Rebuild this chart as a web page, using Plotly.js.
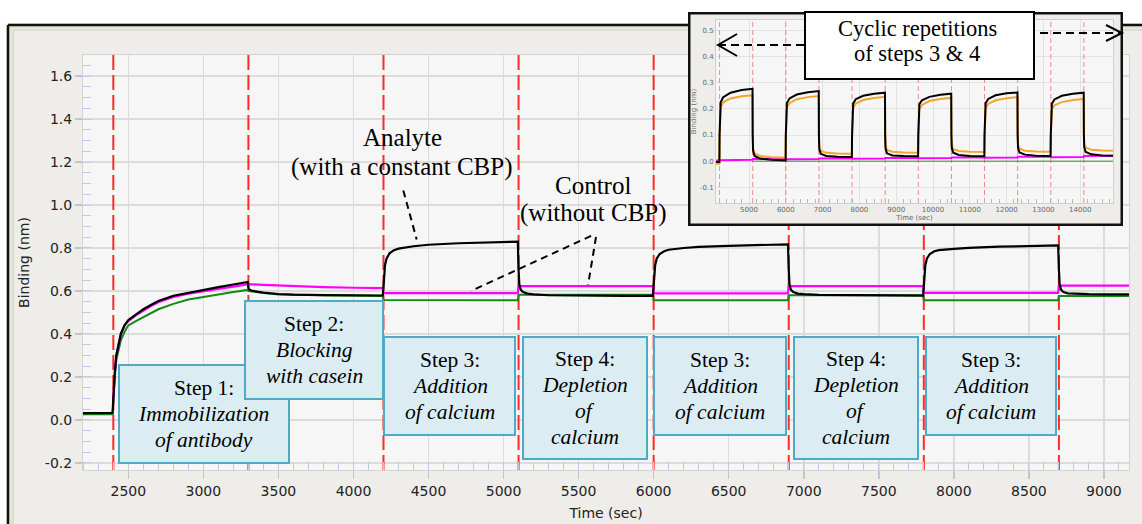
<!DOCTYPE html>
<html>
<head>
<meta charset="utf-8">
<script src="https://cdn.plot.ly/plotly-3.0.1.min.js"></script>
<style>html,body{margin:0;padding:0;background:#fff;}#chart{width:1142px;height:524px;}</style>
</head>
<body>
<div id="chart"></div>
<script>
// ---------------- DATA ----------------
// Main sensorgram: time (sec) and binding (nm)
const stepBoundaries = [2400, 3300, 4200, 5100, 6000, 6900, 7800, 8700];

const analyteX = [2198,2250,2300,2350,2395, 2400,2405,2410,2420,2435,2450,2475,2500,2550,2600,2650,2700,2800,2900,3000,3100,3200,3295,
  3300,3305,3320,3350,3400,3500,3600,3800,4000,4195,
  4200,4205,4210,4220,4240,4270,4300,4400,4500,4700,4900,5095,
  5100,5105,5115,5130,5160,5200,5300,5500,5800,5995,
  6000,6005,6010,6020,6040,6070,6100,6200,6300,6500,6700,6895,
  6900,6905,6915,6930,6960,7000,7100,7300,7600,7795,
  7800,7805,7810,7820,7840,7870,7900,8000,8100,8300,8500,8695,
  8700,8705,8715,8730,8760,8800,8900,9000,9167];
const analyteY = [0.032,0.033,0.032,0.033,0.033, 0.10,0.17,0.22,0.30,0.36,0.40,0.44,0.465,0.49,0.515,0.535,0.553,0.578,0.592,0.606,0.618,0.630,0.642,
  0.615,0.607,0.602,0.597,0.592,0.586,0.583,0.581,0.580,0.579,
  0.62,0.68,0.72,0.75,0.775,0.790,0.797,0.808,0.815,0.822,0.827,0.830,
  0.70,0.63,0.605,0.595,0.588,0.584,0.580,0.578,0.577,0.577,
  0.62,0.68,0.72,0.75,0.772,0.785,0.792,0.800,0.805,0.810,0.814,0.817,
  0.70,0.63,0.605,0.595,0.588,0.585,0.582,0.580,0.579,0.578,
  0.62,0.68,0.72,0.75,0.772,0.785,0.790,0.796,0.801,0.806,0.810,0.812,
  0.70,0.63,0.605,0.595,0.589,0.587,0.585,0.584,0.584];

const controlX = [2400,2405,2410,2420,2435,2450,2475,2500,2550,2600,2650,2700,2800,2900,3000,3100,3200,3295,
  3300,3400,3600,3800,4000,4195,
  4200,4500,4800,5095,
  5100,5400,5700,5995,
  6000,6300,6600,6895,
  6900,7200,7500,7795,
  7800,8100,8400,8695,
  8700,8900,9167];
const controlY = [0.10,0.17,0.22,0.30,0.36,0.40,0.44,0.46,0.487,0.51,0.53,0.548,0.572,0.588,0.600,0.610,0.620,0.632,
  0.632,0.628,0.622,0.618,0.615,0.613,
  0.590,0.589,0.590,0.590,
  0.623,0.623,0.624,0.623,
  0.589,0.589,0.590,0.589,
  0.623,0.623,0.624,0.623,
  0.591,0.591,0.592,0.591,
  0.625,0.625,0.625];

const referenceX = [2198,2300,2395, 2400,2405,2410,2420,2435,2450,2475,2500,2550,2600,2650,2700,2800,2900,3000,3100,3200,3295,
  3300,3400,3500,3800,4195,
  4200,4500,4800,5095,
  5100,5400,5700,5995,
  6000,6300,6600,6895,
  6900,7200,7500,7795,
  7800,8100,8400,8695,
  8700,8900,9167];
const referenceY = [0.026,0.026,0.026, 0.08,0.15,0.20,0.28,0.33,0.37,0.41,0.44,0.46,0.478,0.497,0.515,0.54,0.56,0.572,0.585,0.595,0.605,
  0.600,0.590,0.584,0.580,0.577,
  0.558,0.557,0.557,0.557,
  0.583,0.582,0.582,0.582,
  0.557,0.557,0.557,0.557,
  0.580,0.580,0.580,0.580,
  0.557,0.557,0.557,0.557,
  0.577,0.577,0.577];

// Inset: cyclic repetitions of steps 3 & 4
const insetBoundaries = [4200,5100,6000,6900,7800,8700,9600,10500,11400,12300,13200,14100];
const insetX = [4103,4195, 4200,4210,4230,4300,4500,4800,5095, 5100,5110,5150,5300,5600,5995,
  6000,6010,6030,6100,6300,6600,6895, 6900,6910,6950,7100,7400,7795,
  7800,7810,7830,7900,8100,8400,8695, 8700,8710,8750,8900,9200,9595,
  9600,9610,9630,9700,9900,10200,10495, 10500,10510,10550,10700,11000,11395,
  11400,11410,11430,11500,11700,12000,12295, 12300,12310,12350,12500,12800,13195,
  13200,13210,13230,13300,13500,13800,14095, 14100,14110,14150,14300,14600,14891];
const insetBlackY = [-0.003,-0.003, 0.10,0.20,0.225,0.245,0.262,0.272,0.277, 0.10,0.04,0.02,0.01,0.005,0.003,
  0.10,0.20,0.222,0.240,0.255,0.264,0.268, 0.10,0.045,0.028,0.020,0.017,0.016,
  0.10,0.20,0.220,0.237,0.250,0.258,0.262, 0.10,0.048,0.030,0.022,0.020,0.019,
  0.10,0.20,0.218,0.233,0.246,0.254,0.258, 0.10,0.05,0.032,0.024,0.020,0.019,
  0.10,0.20,0.222,0.238,0.252,0.260,0.263, 0.10,0.05,0.033,0.025,0.021,0.020,
  0.10,0.20,0.220,0.236,0.250,0.258,0.262, 0.10,0.052,0.035,0.026,0.022,0.021];
const insetOrangeY = [-0.01,-0.01, 0.09,0.18,0.205,0.225,0.240,0.248,0.252, 0.10,0.05,0.03,0.02,0.015,0.013,
  0.09,0.18,0.205,0.222,0.237,0.245,0.249, 0.10,0.055,0.040,0.032,0.029,0.028,
  0.09,0.18,0.203,0.220,0.234,0.242,0.246, 0.10,0.058,0.043,0.036,0.033,0.032,
  0.09,0.18,0.200,0.215,0.230,0.238,0.242, 0.10,0.06,0.046,0.039,0.036,0.035,
  0.09,0.18,0.203,0.219,0.233,0.241,0.245, 0.10,0.062,0.048,0.040,0.037,0.036,
  0.09,0.18,0.200,0.214,0.226,0.234,0.238, 0.10,0.065,0.052,0.044,0.041,0.040];
const insetMagentaX = [4103,4195,4200,5095,5100,5995,6000,6895,6900,7795,7800,8695,8700,9595,9600,10495,10500,11395,11400,12295,12300,13195,13200,14095,14100,14891];
const insetMagentaY = [0.002,0.002,0.004,0.005,0.008,0.009,0.007,0.008,0.010,0.011,0.009,0.010,0.012,0.013,0.011,0.012,0.014,0.015,0.013,0.014,0.017,0.018,0.015,0.016,0.020,0.021];
const insetGreenX = [5100, 14891];
const insetGreenY = [0, 0];

// Tick labels
const mainYTickVals = [-0.2,0,0.2,0.4,0.6,0.8,1.0,1.2,1.4,1.6];
const mainYTickText = ['-0.2','0.0','0.2','0.4','0.6','0.8','1.0','1.2','1.4','1.6'];
const insetYTickVals = [-0.1,0,0.1,0.2,0.3,0.4,0.5];
const insetYTickText = ['-0.1','0.0','0.1','0.2','0.3','0.4','0.5'];

// Text (one entry per line)
const stepLines = [
  ['Step 1:', '<i>Immobilization</i>', '<i>of antibody</i>'],
  ['Step 2:', '<i>Blocking</i>', '<i>with casein</i>'],
  ['Step 3:', '<i>Addition</i>', '<i>of calcium</i>'],
  ['Step 4:', '<i>Depletion</i>', '<i>of</i>', '<i>calcium</i>'],
  ['Step 3:', '<i>Addition</i>', '<i>of calcium</i>'],
  ['Step 4:', '<i>Depletion</i>', '<i>of</i>', '<i>calcium</i>'],
  ['Step 3:', '<i>Addition</i>', '<i>of calcium</i>']
];
const analyteLines = ['Analyte', '(with a constant CBP)'];
const controlLines = ['Control', '(without CBP)'];
const cyclicLines = ['Cyclic repetitions', 'of steps 3 &amp; 4'];

// ---------------- LAYOUT HELPERS ----------------
const W = 1142, H = 524;
const px = x => x / W;
const py = y => 1 - y / H;
const MAIN_X_RANGE = [2198, 9167];
const MAIN_Y_RANGE = [-0.233, 1.698];
const INSET_X_RANGE = [4103, 14891];
const INSET_Y_RANGE = [-0.16, 0.54];

function vlines(bounds, range) {
  const x = [], y = [];
  bounds.forEach(b => { x.push(b, b, null); y.push(range[0], range[1], null); });
  return {x, y};
}
const mainV = vlines(stepBoundaries, MAIN_Y_RANGE);
const insetV = vlines(insetBoundaries, INSET_Y_RANGE);

const traces = [
  {x: mainV.x, y: mainV.y, mode: 'lines', line: {color: '#ff2a2a', width: 2, dash: '15px,5px'}, hoverinfo: 'skip', showlegend: false},
  {x: referenceX, y: referenceY, mode: 'lines', line: {color: '#138a13', width: 2}, showlegend: false},
  {x: controlX, y: controlY, mode: 'lines', line: {color: '#ff00ff', width: 2.2}, showlegend: false},
  {x: analyteX, y: analyteY, mode: 'lines', line: {color: '#000000', width: 2.2}, showlegend: false},
  {x: [], y: [], xaxis: 'x2', yaxis: 'y2', mode: 'lines', showlegend: false, hoverinfo: 'skip'},
  {x: insetV.x, y: insetV.y, xaxis: 'x3', yaxis: 'y3', mode: 'lines', line: {color: '#f08a8a', width: 1, dash: '5px,3px'}, hoverinfo: 'skip', showlegend: false},
  {x: insetGreenX, y: insetGreenY, xaxis: 'x3', yaxis: 'y3', mode: 'lines', line: {color: '#2e8b2e', width: 1}, showlegend: false},
  {x: insetMagentaX, y: insetMagentaY, xaxis: 'x3', yaxis: 'y3', mode: 'lines', line: {color: '#ff00ff', width: 2}, showlegend: false},
  {x: insetX, y: insetOrangeY, xaxis: 'x3', yaxis: 'y3', mode: 'lines', line: {color: '#f2a52a', width: 2}, showlegend: false},
  {x: insetX, y: insetBlackY, xaxis: 'x3', yaxis: 'y3', mode: 'lines', line: {color: '#000000', width: 2}, showlegend: false}
];

const tickFont = {family: 'DejaVu Sans', size: 14, color: '#222'};
const serif = 'Liberation Serif';

// Step boxes geometry (pixels): [left, top, right, bottom]
const boxes = [[119,365,289,463],[245,301,383,399],[384,337,515,435],[523,337,647,459],[654,337,786,435],[794,337,918,459],[926,337,1056,435]];

const shapes = [
  {type:'rect', xref:'paper', yref:'paper', x0:0, x1:1, y0:py(25), y1:1, fillcolor:'#ffffff', line:{width:0}, layer:'below'},
  {type:'rect', xref:'paper', yref:'paper', x0:0, x1:px(8), y0:0, y1:py(25), fillcolor:'#ffffff', line:{width:0}, layer:'below'},
  {type:'rect', xref:'paper', yref:'paper', x0:px(9), x1:1.01, y0:-0.01, y1:py(26), fillcolor:'rgba(0,0,0,0)', line:{color:'#e6e3cf', width:5}, layer:'below'},
  {type:'line', xref:'paper', yref:'paper', x0:px(13), x1:1, y0:py(30), y1:py(30), line:{color:'#cfcbb8', width:1}, layer:'below'},
  {type:'line', xref:'paper', yref:'paper', x0:px(13), x1:px(13), y0:0, y1:py(30), line:{color:'#cfcbb8', width:1}, layer:'below'},
  {type:'line', xref:'paper', yref:'paper', x0:px(8), x1:1, y0:py(25), y1:py(25), line:{color:'#111', width:2.5}, layer:'below'},
  {type:'line', xref:'paper', yref:'paper', x0:px(8), x1:px(8), y0:0, y1:py(25), line:{color:'#111', width:2.5}, layer:'below'},
  {type:'rect', xref:'x2', yref:'y2', x0:0, x1:1, y0:0, y1:1, fillcolor:'#eeedea', line:{color:'#111', width:5}, layer:'below'},
  {type:'line', xref:'x', yref:'y', x0:4332, y0:1.068, x1:4421, y1:0.840, line:{color:'#000', width:2, dash:'7px,5px'}, layer:'above'},
  {type:'line', xref:'x', yref:'y', x0:5583, y0:0.856, x1:4783, y1:0.600, line:{color:'#000', width:2, dash:'7px,5px'}, layer:'above'},
  {type:'line', xref:'x', yref:'y', x0:5616, y0:0.851, x1:5563, y1:0.628, line:{color:'#000', width:2, dash:'7px,5px'}, layer:'above'},
  {type:'rect', xref:'paper', yref:'paper', x0:px(805), x1:px(1034), y0:py(79), y1:py(12), fillcolor:'#ffffff', line:{color:'#000', width:2}, layer:'above'},
  {type:'line', xref:'paper', yref:'paper', x0:px(804), x1:px(719), y0:py(45), y1:py(45), line:{color:'#000', width:2, dash:'8px,5px'}, layer:'above'},
  {type:'path', xref:'paper', yref:'paper', path:`M${px(737)},${py(34)} L${px(718)},${py(45)} L${px(737)},${py(56)}`, line:{color:'#000', width:2}, layer:'above'},
  {type:'line', xref:'paper', yref:'paper', x0:px(1040), x1:px(1120), y0:py(33), y1:py(33), line:{color:'#000', width:2, dash:'8px,5px'}, layer:'above'},
  {type:'path', xref:'paper', yref:'paper', path:`M${px(1106)},${py(25)} L${px(1122)},${py(33)} L${px(1106)},${py(41)}`, line:{color:'#000', width:2}, layer:'above'}
];
boxes.forEach(b => shapes.push({type:'rect', xref:'paper', yref:'paper', x0:px(b[0]), x1:px(b[2]), y0:py(b[3]), y1:py(b[1]),
  fillcolor:'#dbedf3', line:{color:'#4eaac6', width:2}, layer:'above'}));

const annotations = [];
function addLines(lines, cx, cy, spacing, size) {
  const n = lines.length;
  lines.forEach((t, i) => annotations.push({xref:'paper', yref:'paper', x:px(cx), y:py(cy + (i - (n - 1) / 2) * spacing),
    xanchor:'center', yanchor:'middle', showarrow:false, align:'center', text:t,
    font:{family:serif, size:size, color:'#000'}}));
}
boxes.forEach((b, i) => addLines(stepLines[i], (b[0] + b[2]) / 2, (b[1] + b[3]) / 2, 26, 21.5));
addLines(analyteLines, 402, 152.5, 29, 25);
addLines(controlLines, 593, 199, 28, 25);
addLines(cyclicLines, 917, 41, 25, 22.5);

const layout = {
  width: W, height: H,
  margin: {l:0, r:0, t:0, b:0, pad:0},
  paper_bgcolor: '#eeede9',
  plot_bgcolor: '#f6f6f6',
  showlegend: false,
  hovermode: false,
  xaxis: {
    domain: [px(83), px(1129)], range: MAIN_X_RANGE, anchor: 'y',
    tick0: 0, dtick: 500, tickformat: 'd',
    showgrid: true, gridcolor: '#dcdcdc', gridwidth: 1.5, zeroline: false,
    ticks: 'outside', ticklen: 8, tickcolor: '#c4c4c4', tickwidth: 1.5,
    minor: {dtick: 100, ticks: 'inside', ticklen: 8, tickcolor: '#c6c6ec', tickwidth: 1, showgrid: false},
    showline: true, linecolor: '#d4d4d4', linewidth: 1, mirror: true,
    tickfont: tickFont,
    title: {text: 'Time (sec)', font: tickFont, standoff: 10}
  },
  yaxis: {
    domain: [py(470), py(55)], range: MAIN_Y_RANGE, anchor: 'x',
    tickvals: mainYTickVals, ticktext: mainYTickText,
    showgrid: true, gridcolor: '#dcdcdc', gridwidth: 1.5, zeroline: false,
    ticks: 'outside', ticklen: 7, tickcolor: '#c4c4c4', tickwidth: 1.5,
    minor: {dtick: 0.05, tick0: 0, ticks: 'inside', ticklen: 8, tickcolor: '#c6c6ec', tickwidth: 1, showgrid: false},
    showline: true, linecolor: '#d4d4d4', linewidth: 1, mirror: true,
    tickfont: tickFont,
    title: {text: 'Binding (nm)', font: tickFont, standoff: 11}
  },
  xaxis2: {domain: [px(688), px(1123)], range: [0,1], anchor: 'y2', showgrid:false, zeroline:false, showticklabels:false, ticks:'', showline:false, fixedrange:true},
  yaxis2: {domain: [py(226), py(12)], range: [0,1], anchor: 'x2', showgrid:false, zeroline:false, showticklabels:false, ticks:'', showline:false, fixedrange:true},
  xaxis3: {
    domain: [px(716), px(1113)], range: INSET_X_RANGE, anchor: 'y3',
    tick0: 0, dtick: 1000, tickformat: 'd',
    showgrid: true, gridcolor: '#e2e2e2', gridwidth: 1, zeroline: false,
    ticks: '', minor: {dtick: 200, ticks: 'inside', ticklen: 4, tickcolor: '#b8b8b8', showgrid: false},
    showline: true, linecolor: '#d0d0d0', mirror: true,
    tickfont: {family: 'DejaVu Sans', size: 7, color: '#666'},
    title: {text: 'Time (sec)', font: {family: 'DejaVu Sans', size: 7, color: '#666'}, standoff: 0}
  },
  yaxis3: {
    domain: [py(203), py(20)], range: INSET_Y_RANGE, anchor: 'x3',
    tickvals: insetYTickVals, ticktext: insetYTickText,
    showgrid: true, gridcolor: '#e2e2e2', gridwidth: 1, zeroline: false,
    ticks: '', showline: true, linecolor: '#d0d0d0', mirror: true,
    tickfont: {family: 'DejaVu Sans', size: 7, color: '#666'},
    title: {text: 'Binding (nm)', font: {family: 'DejaVu Sans', size: 7, color: '#666'}, standoff: 2}
  },
  shapes: shapes,
  annotations: annotations
};

Plotly.newPlot('chart', traces, layout, {staticPlot: true, displayModeBar: false});
</script>
</body>
</html>
